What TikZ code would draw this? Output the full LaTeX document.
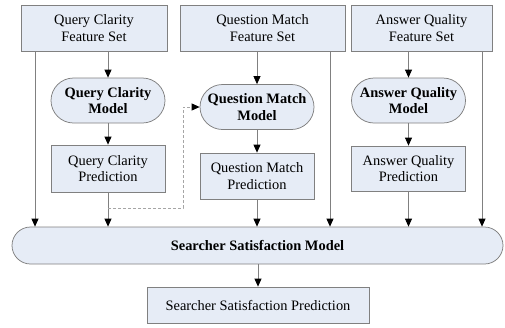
\documentclass[tikz,border=0pt]{standalone}
\usepackage{fontspec}
\setmainfont{Liberation Serif}
\usetikzlibrary{arrows.meta}
\definecolor{boxfill}{RGB}{230,236,246}
\definecolor{edgegray}{RGB}{128,128,128}
\definecolor{dashgray}{RGB}{165,165,165}
\begin{document}
\begin{tikzpicture}[x=1pt,y=-1pt,
  every node/.style={font=\fontsize{14.4}{16.5}\selectfont, align=center, inner sep=0pt},
  featbox/.style={draw=edgegray, fill=boxfill, line width=0.75pt, minimum height=46pt},
  predbox/.style={featbox, minimum width=114pt},
  modelcap/.style={draw=edgegray, fill=boxfill, line width=0.75pt, rounded corners=22.5pt,
    minimum width=114pt, minimum height=45pt, font=\fontsize{14.4}{16.5}\selectfont\bfseries},
  tip/.style={-{Triangle[length=8pt,width=7pt,color=black]}},
  flow/.style={draw=edgegray, line width=0.75pt, tip},
  feedback/.style={draw=dashgray, line width=0.75pt, dash pattern=on 3pt off 2pt, tip}
]
\useasboundingbox (0,0) rectangle (505,327);

% feature sets
\node[featbox, minimum width=146pt] (qcf) at (94,28) {Query Clarity\\Feature Set};
\node[featbox, minimum width=165pt] (qmf) at (262.5,28) {Question Match\\Feature Set};
\node[featbox, minimum width=141pt] (aqf) at (421.5,28) {Answer Quality\\Feature Set};

% component models
\node[modelcap] (qcm) at (108,100.5) {Query Clarity\\Model};
\node[modelcap] (qmm) at (257,107) {Question Match\\Model};
\node[modelcap] (aqm) at (408.5,100.5) {Answer Quality\\Model};

% component predictions
\node[predbox, minimum height=47pt] (qcp) at (108,168.5) {Query Clarity\\Prediction};
\node[predbox] (qmp) at (257,176) {Question Match\\Prediction};
\node[predbox, minimum height=45pt] (aqp) at (408.5,168.5) {Answer Quality\\Prediction};

% combined model and final output
\node[draw=edgegray, fill=boxfill, line width=0.75pt, rounded corners=18.5pt,
  minimum width=491pt, minimum height=37pt, font=\fontsize{14.4}{16.5}\selectfont\bfseries]
  (ssm) at (257.5,245.5) {Searcher Satisfaction Model};
\node[featbox, minimum width=222pt, minimum height=36pt] (ssp) at (258,305) {Searcher Satisfaction Prediction};

% columns of the direct feature links
\coordinate (qcbypass) at (35,0);
\coordinate (qmbypass) at (330,0);
\coordinate (aqbypass) at (482,0);
\coordinate (fbturn) at (183,208);

% query clarity column
\draw[flow] (qcf.south -| qcm.north) -- (qcm.north);
\draw[flow] (qcm) -- (qcp);
\draw[flow] (qcp) -- (qcp.center |- ssm.north);
\draw[flow] (qcf.south -| qcbypass) -- (qcbypass |- ssm.north);

% question match column
\draw[flow] (qmf.south -| qmm.north) -- (qmm.north);
\draw[flow] (qmm) -- (qmp);
\draw[flow] (qmp) -- (qmp.center |- ssm.north);
\draw[flow] (qmf.south -| qmbypass) -- (qmbypass |- ssm.north);

% answer quality column
\draw[flow] (aqf.south -| aqm.north) -- (aqm.north);
\draw[flow] (aqm) -- (aqp);
\draw[flow] (aqp) -- (aqp.center |- ssm.north);
\draw[flow] (aqf.south -| aqbypass) -- (aqbypass |- ssm.north);

% clarity prediction fed into the question match model
\draw[feedback] (qcp.south |- fbturn) -- (fbturn) |- (qmm.west);

% final prediction
\draw[flow] (ssm.south -| ssp.north) -- (ssp.north);
\end{tikzpicture}
\end{document}
